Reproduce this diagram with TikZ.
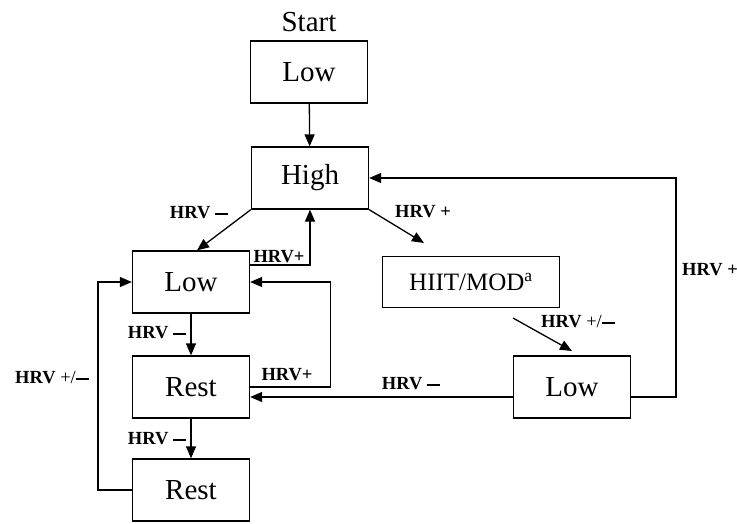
\documentclass[tikz,border=0pt]{standalone}
\usepackage{fontspec}
\setmainfont{Liberation Serif}
\usetikzlibrary{
		calc,
		positioning,
		arrows.meta
	}
\tikzset{
		>=stealth
	}
\newcommand{\hrvdash}{\rule[0.22em]{0.7em}{0.12em}}

\begin{document}
\begin{tikzpicture}[x=1pt, y=-1pt, line width=1.3pt,
					state/.style={draw, rectangle, inner sep=0pt, minimum width=117pt, minimum height=62pt, font=\fontsize{29}{31}\selectfont},
					change/.style={font=\fontsize{18.5}{20}\selectfont\bfseries, inner sep=1pt},
					arr/.style={-{Triangle[length=12pt, width=10pt]}}]
		\useasboundingbox (0,0) rectangle (737,523);
		% states
		\node[font=\fontsize{29}{31}\selectfont] (start) at (309,22) {Start};
		\node[state] (low1) at (309,72) {Low};
		\node[state] (high) at (310,178) {High};
		\node[state] (lowA) at (191,282) {Low};
		\node[state] (restA) at (191,387) {Rest};
		\node[state] (restB) at (191,490) {Rest};
		\node[state, minimum width=177pt, minimum height=51pt, font=\fontsize{25}{27}\selectfont] (hiit) at (471,282) {HIIT/MOD\textsuperscript{a}};
		\node[state] (lowB) at (572,387) {Low};
		% free ends
		\coordinate (hiitin) at (424,243);
		\coordinate (hiitout) at (513,318);
		\coordinate (lowBin) at (572,351);
		\coordinate (rt) at (676,178);
		% connectors
		\draw[arr] (low1) -- (high);
		\draw[arr] (high.south west) -- ([xshift=6pt]lowA.north);
		\draw[arr] ([yshift=17pt]lowA.east) -| (high.south);
		\draw[arr] (high.south east) -- (hiitin);
		\draw[arr] (hiitout) -- (lowBin);
		\draw[arr] ([yshift=-10pt]lowB.west) -- ([yshift=-10pt]restA.east);
		\draw[arr] ([yshift=-10pt]lowB.east) -| (rt) -- (high.east);
		\draw[arr] (restA.east) -| ([xshift=80pt]lowA.east) -- (lowA.east);
		\draw[arr] (lowA) -- (restA);
		\draw[arr] (restA) -- (restB);
		\draw[arr] (restB.west) -| ([xshift=-34pt]lowA.west) -- (lowA.west);
		% labels
		\node[change] (c1) at (199,213) {HRV \hrvdash};
		\node[change] (c2) at (279,257) {HRV+};
		\node[change] (c3) at (423,212) {HRV +};
		\node[change] (c4) at (578,322) {HRV \mdseries+/\hrvdash};
		\node[change] (c5) at (710,270) {HRV +};
		\node[change] (c6) at (411,384) {HRV \hrvdash};
		\node[change] (c7) at (157,333) {HRV \hrvdash};
		\node[change] (c8) at (287,375) {HRV+};
		\node[change] (c9) at (157,439) {HRV \hrvdash};
		\node[change] (c10) at (52,378) {HRV \mdseries+/\hrvdash};
\end{tikzpicture}
\end{document}
